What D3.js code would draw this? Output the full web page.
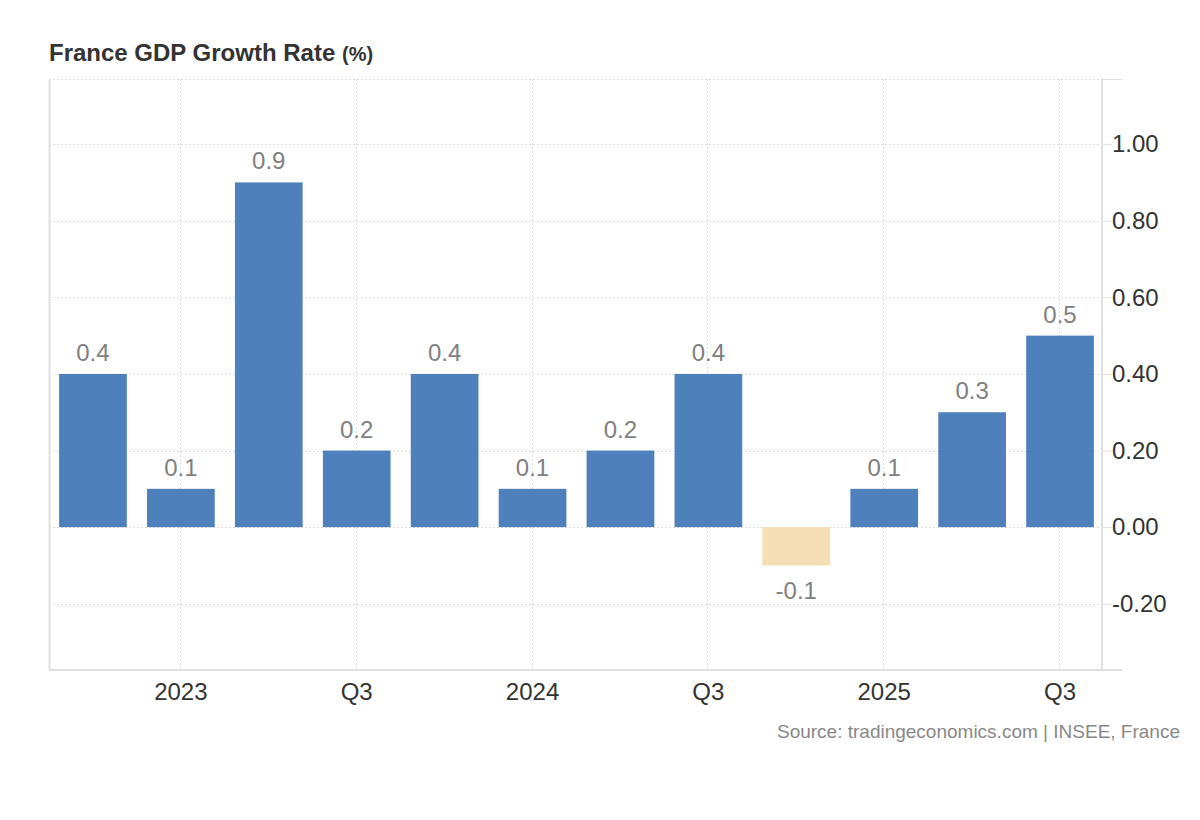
<!DOCTYPE html>
<html>
<head>
<meta charset="utf-8">
<script src="https://cdn.jsdelivr.net/npm/d3@7"></script>
<style>
  body { margin: 0; background: #fff; font-family: "Liberation Sans", Arial, sans-serif; }
</style>
</head>
<body>
<div id="chart"></div>
<script>
var quarters = ["2022Q4", "2023Q1", "2023Q2", "2023Q3", "2023Q4", "2024Q1",
                "2024Q2", "2024Q3", "2024Q4", "2025Q1", "2025Q2", "2025Q3"];
var values = [0.4, 0.1, 0.9, 0.2, 0.4, 0.1, 0.2, 0.4, -0.1, 0.1, 0.3, 0.5];
var tickQuarters = ["2023Q1", "2023Q3", "2024Q1", "2024Q3", "2025Q1", "2025Q3"];
var tickLabels = ["2023", "Q3", "2024", "Q3", "2025", "Q3"];
var yTicks = [-0.2, 0, 0.2, 0.4, 0.6, 0.8, 1.0];

var width = 1200, height = 820;
var plotLeft = 49, plotRight = 1102, plotTop = 79, plotBottom = 670;

var svg = d3.select('#chart').append('svg')
    .attr('width', width)
    .attr('height', height);

var x = d3.scaleBand()
    .domain(quarters)
    .range([49, 1104])
    .paddingInner(0.23)
    .paddingOuter(0.115);

var y = d3.scaleLinear()
    .domain([-0.373, 1.17])
    .range([plotBottom, plotTop]);

// title
var title = svg.append('text')
    .attr('x', 49)
    .attr('y', 61)
    .style('font-size', '24px')
    .style('font-weight', 'bold')
    .style('fill', '#333');
title.append('tspan').text('France GDP Growth Rate ');
title.append('tspan').style('font-size', '20px').text('(%)');

// horizontal dotted grid
svg.selectAll('.hgrid')
    .data(yTicks.concat([1.17]))
    .enter().append('line')
    .attr('x1', plotLeft).attr('x2', plotRight)
    .attr('y1', d => Math.round(y(d)) + 0.5)
    .attr('y2', d => Math.round(y(d)) + 0.5)
    .style('stroke', '#dcdcdc')
    .style('stroke-width', 1)
    .style('stroke-dasharray', '2,2');

// vertical dotted grid
svg.selectAll('.vgrid')
    .data(tickQuarters)
    .enter().append('line')
    .attr('x1', d => Math.round(x(d) + x.bandwidth() / 2) - 0.5)
    .attr('x2', d => Math.round(x(d) + x.bandwidth() / 2) - 0.5)
    .attr('y1', plotTop).attr('y2', plotBottom)
    .style('stroke', '#dcdcdc')
    .style('stroke-width', 1)
    .style('stroke-dasharray', '2,2');

// bars
svg.selectAll('.bar')
    .data(values)
    .enter().append('rect')
    .attr('x', (d, i) => x(quarters[i]))
    .attr('width', x.bandwidth())
    .attr('y', d => y(Math.max(0, d)))
    .attr('height', d => Math.abs(y(d) - y(0)))
    .style('fill', d => d < 0 ? '#f5deb3' : '#4e80bc');

// value labels
svg.selectAll('.vlabel')
    .data(values)
    .enter().append('text')
    .attr('x', (d, i) => x(quarters[i]) + x.bandwidth() / 2)
    .attr('y', d => d < 0 ? y(d) + 34 : y(d) - 13)
    .attr('text-anchor', 'middle')
    .style('font-size', '24px')
    .style('fill', '#808080')
    .text(d => d.toFixed(1));

// borders
svg.append('line')
    .attr('x1', plotLeft + 0.5).attr('x2', plotLeft + 0.5)
    .attr('y1', plotTop).attr('y2', plotBottom)
    .style('stroke', '#e0e0e0').style('stroke-width', 2);
svg.append('line')
    .attr('x1', plotLeft).attr('x2', 1122)
    .attr('y1', plotBottom).attr('y2', plotBottom)
    .style('stroke', '#e0e0e0').style('stroke-width', 2);
svg.append('line')
    .attr('x1', plotRight).attr('x2', plotRight)
    .attr('y1', plotTop).attr('y2', plotBottom)
    .style('stroke', '#e0e0e0').style('stroke-width', 2);
svg.append('line')
    .attr('x1', plotRight).attr('x2', 1122)
    .attr('y1', plotTop + 0.5).attr('y2', plotTop + 0.5)
    .style('stroke', '#e0e0e0').style('stroke-width', 1);

// right y axis
var yAxis = svg.append('g')
    .attr('transform', 'translate(' + plotRight + ',0)')
    .call(d3.axisRight(y).tickValues(yTicks).tickSize(10).tickPadding(0)
        .tickFormat(d => d.toFixed(2)));
yAxis.select('.domain').remove();
yAxis.selectAll('.tick line').style('stroke', '#e0e0e0');
yAxis.selectAll('.tick text')
    .style('font-size', '24px')
    .style('fill', '#333')
    .style('font-family', '"Liberation Sans", Arial, sans-serif');

// x labels
svg.selectAll('.xlabel')
    .data(tickQuarters)
    .enter().append('text')
    .attr('x', d => x(d) + x.bandwidth() / 2)
    .attr('y', 700)
    .attr('text-anchor', 'middle')
    .style('font-size', '24px')
    .style('fill', '#333')
    .text((d, i) => tickLabels[i]);

// source
svg.append('text')
    .attr('x', 1180)
    .attr('y', 738)
    .attr('text-anchor', 'end')
    .style('font-size', '19px')
    .style('fill', '#888')
    .text('Source: tradingeconomics.com | INSEE, France');
</script>
</body>
</html>
